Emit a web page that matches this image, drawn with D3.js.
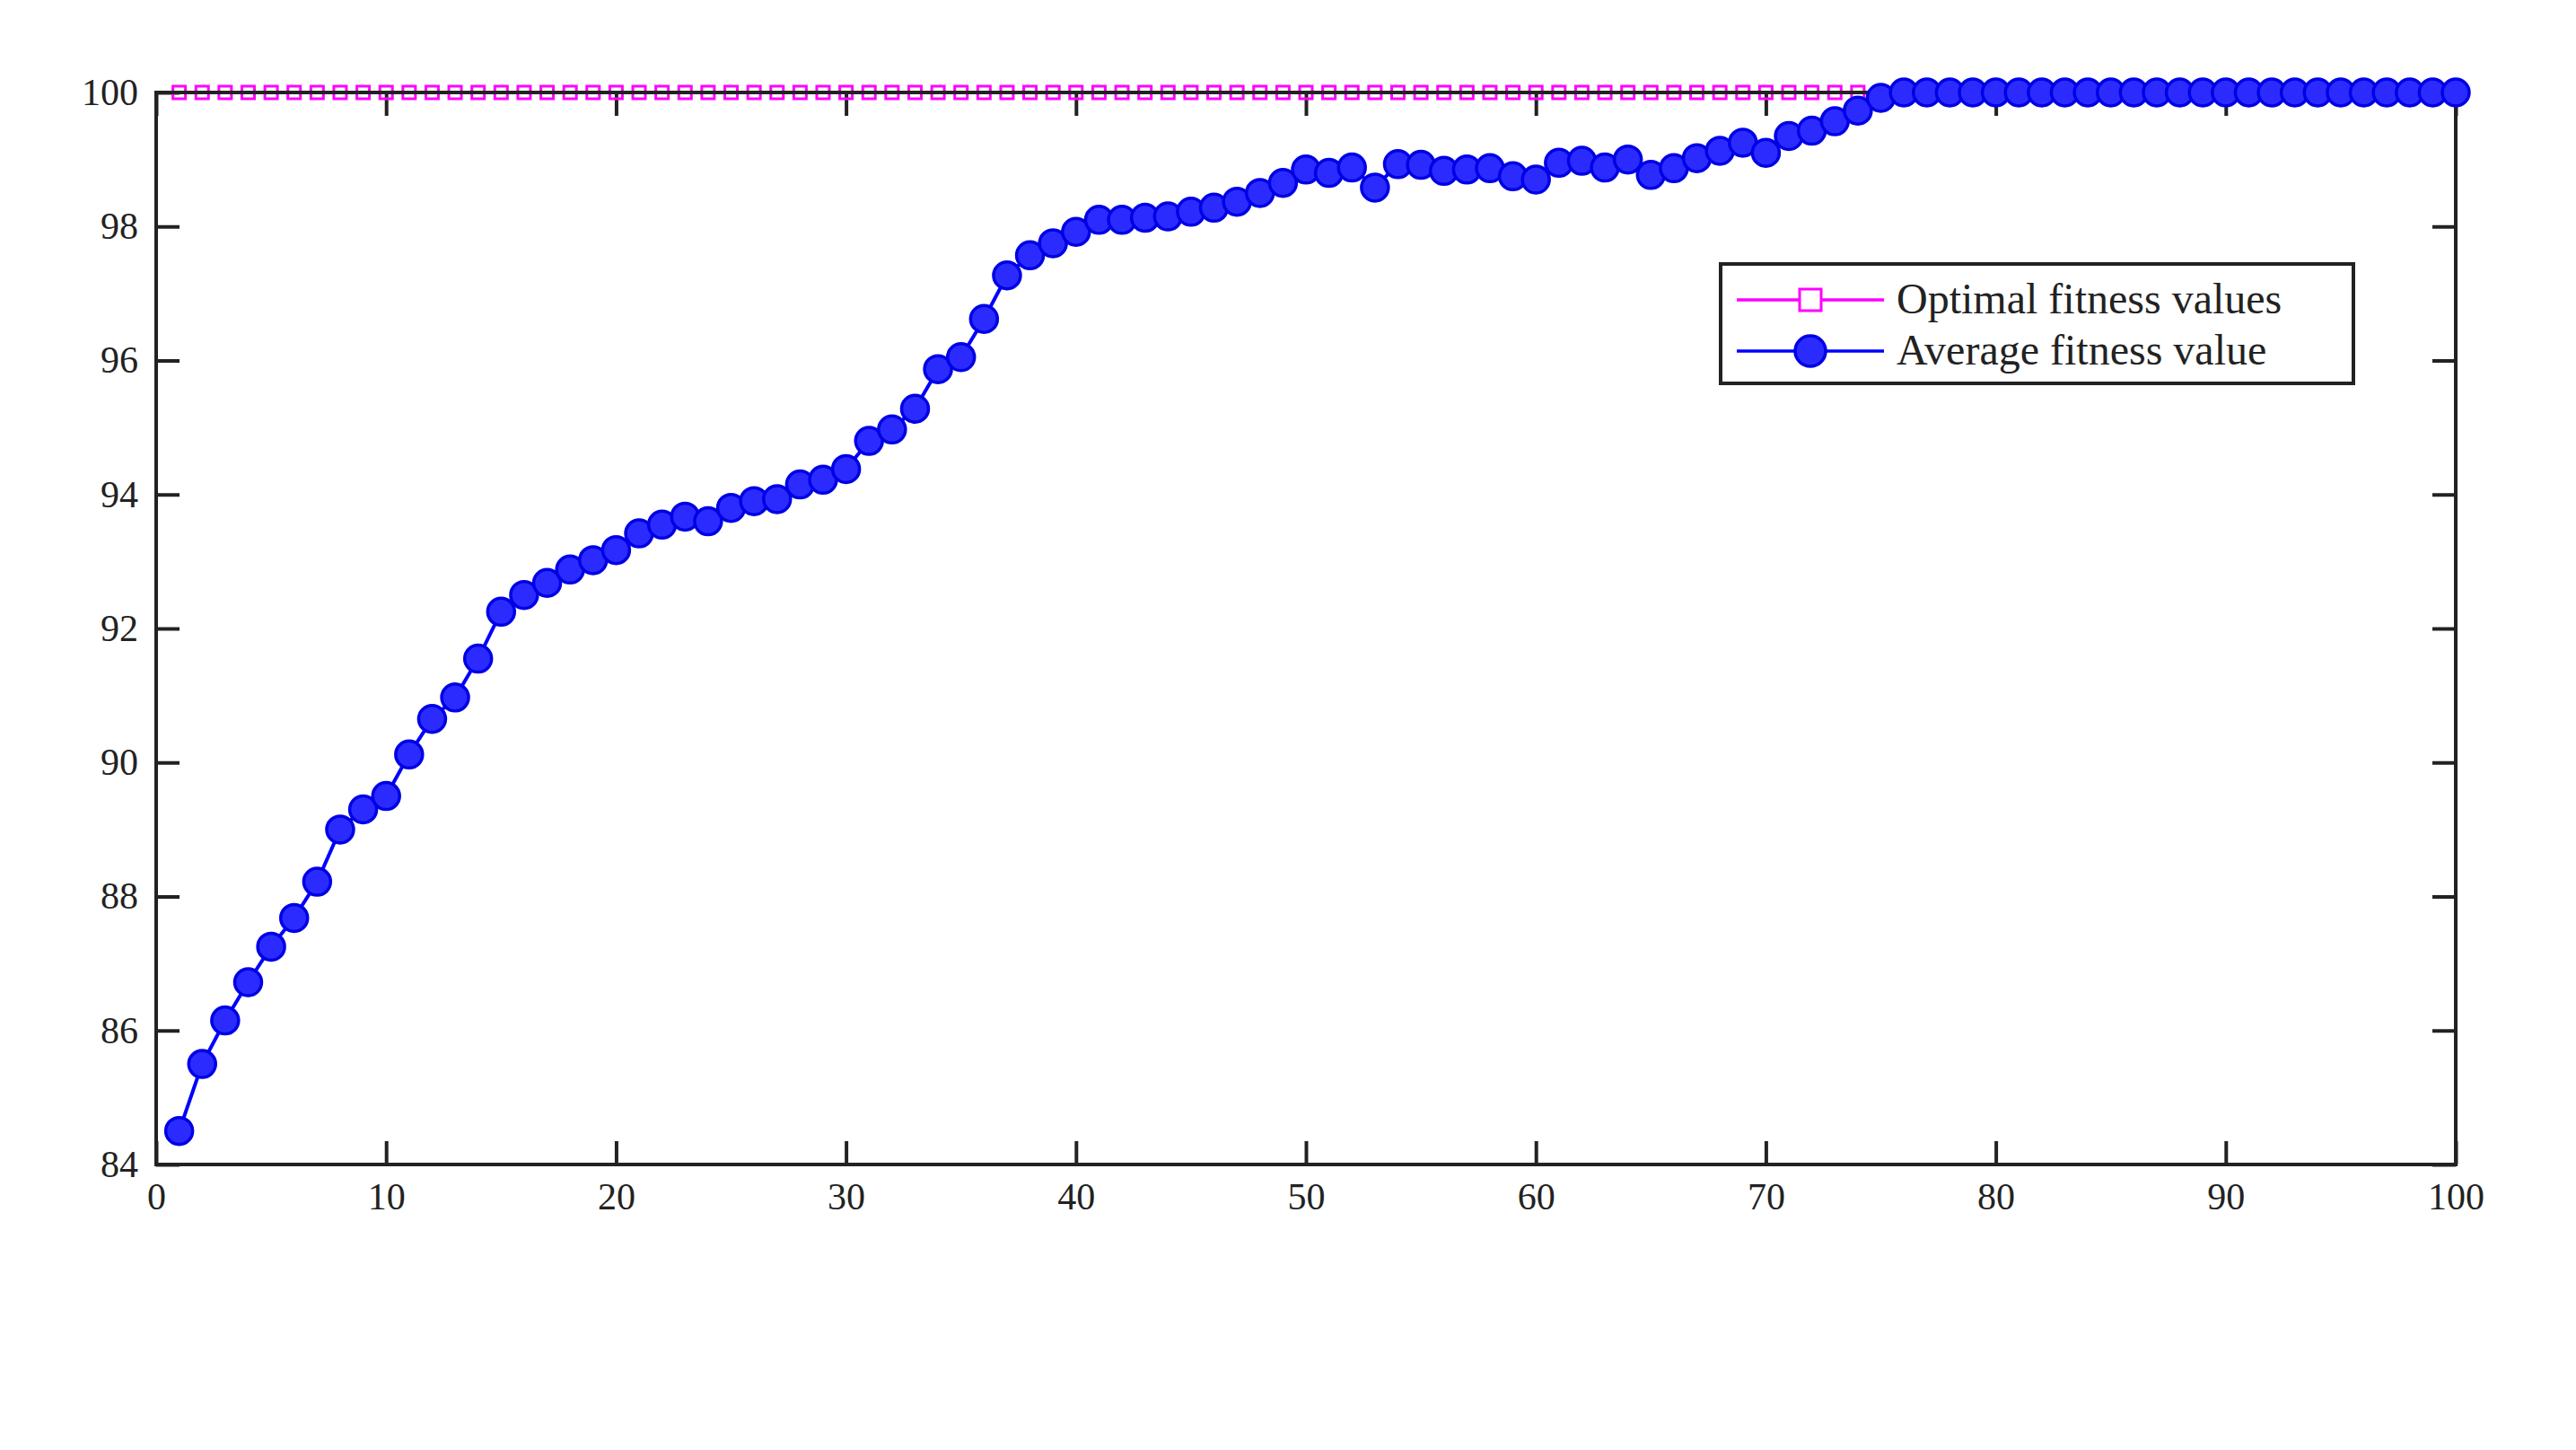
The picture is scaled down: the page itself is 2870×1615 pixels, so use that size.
<!DOCTYPE html>
<html>
<head>
<meta charset="utf-8">
<script src="https://cdn.jsdelivr.net/npm/d3@7"></script>
<style>
  body { margin: 0; background: #fff; }
  text { font-family: "Liberation Serif", "DejaVu Serif", serif; fill: #222; }
</style>
</head>
<body>
<svg id="chart" width="2870" height="1615"></svg>
<script>
const generations = d3.range(1, 101);
const avgHead = [
  84.5, 85.5, 86.15, 86.72, 87.25, 87.68, 88.22, 89.0, 89.3, 89.5,
  90.12, 90.65, 90.97, 91.55, 92.25, 92.5, 92.68, 92.88, 93.02, 93.17,
  93.42, 93.55, 93.67, 93.6, 93.8, 93.9, 93.93, 94.15, 94.22, 94.38,
  94.8, 94.97, 95.28, 95.87, 96.05, 96.62, 97.27, 97.57, 97.75, 97.92,
  98.1, 98.1, 98.13, 98.15, 98.22, 98.28, 98.37, 98.5, 98.65, 98.85,
  98.8, 98.88, 98.58, 98.93, 98.92, 98.83, 98.85, 98.87, 98.75, 98.7,
  98.95, 98.98, 98.88, 99.0, 98.77, 98.87, 99.02, 99.13, 99.25, 99.1,
  99.35, 99.43, 99.57, 99.73, 99.92
];
// generations 76-100 reached the optimum
const avgTail = new Array(25).fill(100);
const averageFitness = avgHead.concat(avgTail);
const optimalFitness = new Array(100).fill(100);
const xTicks = [0, 10, 20, 30, 40, 50, 60, 70, 80, 90, 100];
const yTicks = [84, 86, 88, 90, 92, 94, 96, 98, 100];

const mLeft = 174, mRight = 2736, mTop = 103, mBottom = 1297;
const svg = d3.select("#chart");
const x = d3.scaleLinear().domain([0, 100]).range([mLeft, mRight]);
const y = d3.scaleLinear().domain([84, 100]).range([mBottom, mTop]);

const tickLen = 26;
const axisStyle = g => {
  g.select(".domain").remove();
  g.selectAll(".tick line").attr("stroke", "#222").attr("stroke-width", 4);
  g.selectAll(".tick text").style("font-size", "42px").attr("fill", "#222");
};
svg.append("g").attr("transform", `translate(0,${mBottom})`)
  .call(d3.axisBottom(x).tickValues(xTicks).tickSizeInner(-tickLen).tickPadding(20))
  .call(axisStyle);
svg.append("g").attr("transform", `translate(0,${mTop})`)
  .call(d3.axisTop(x).tickValues(xTicks).tickSizeInner(-tickLen).tickFormat(""))
  .call(axisStyle);
svg.append("g").attr("transform", `translate(${mLeft},0)`)
  .call(d3.axisLeft(y).tickValues(yTicks).tickSizeInner(-tickLen).tickPadding(20))
  .call(axisStyle);
svg.append("g").attr("transform", `translate(${mRight},0)`)
  .call(d3.axisRight(y).tickValues(yTicks).tickSizeInner(-tickLen).tickFormat(""))
  .call(axisStyle);

const line = d3.line().x((d, i) => x(generations[i])).y(d => y(d));

// optimal series
svg.append("path").datum(optimalFitness).attr("d", line)
  .attr("fill", "none").attr("stroke", "#ff00ff").attr("stroke-width", 3.5);
const sq = 14;
svg.append("g").selectAll("rect").data(optimalFitness).join("rect")
  .attr("x", (d, i) => x(generations[i]) - sq / 2)
  .attr("y", d => y(d) - sq / 2)
  .attr("width", sq).attr("height", sq)
  .attr("fill", "none").attr("stroke", "#ff00ff").attr("stroke-width", 3);

// frame
svg.append("rect").attr("x", mLeft).attr("y", mTop)
  .attr("width", mRight - mLeft).attr("height", mBottom - mTop)
  .attr("fill", "none").attr("stroke", "#222").attr("stroke-width", 4);

// average series
svg.append("path").datum(averageFitness).attr("d", line)
  .attr("fill", "none").attr("stroke", "#0000ff").attr("stroke-width", 4);
svg.append("g").selectAll("circle").data(averageFitness).join("circle")
  .attr("cx", (d, i) => x(generations[i]))
  .attr("cy", d => y(d))
  .attr("r", 15)
  .attr("fill", "#2b2bff").attr("stroke", "#0000e6").attr("stroke-width", 3.5);

// legend
const lg = svg.append("g").attr("transform", "translate(1917,294)");
lg.append("rect").attr("width", 705).attr("height", 133)
  .attr("fill", "#fff").attr("stroke", "#222").attr("stroke-width", 4);
const entries = [
  { label: "Optimal fitness values", color: "#ff00ff", type: "square", yy: 40 },
  { label: "Average fitness value", color: "#0000ff", type: "circle", yy: 97 }
];
entries.forEach(e => {
  lg.append("line").attr("x1", 18).attr("x2", 182).attr("y1", e.yy).attr("y2", e.yy)
    .attr("stroke", e.color).attr("stroke-width", 3.5);
  if (e.type === "square") {
    lg.append("rect").attr("x", 100 - 12).attr("y", e.yy - 12).attr("width", 24).attr("height", 24)
      .attr("fill", "#fff").attr("stroke", e.color).attr("stroke-width", 3);
  } else {
    lg.append("circle").attr("cx", 100).attr("cy", e.yy).attr("r", 17)
      .attr("fill", "#2b2bff").attr("stroke", "#0000e6").attr("stroke-width", 3.5);
  }
  lg.append("text").attr("x", 196).attr("y", e.yy + 15)
    .style("font-size", "48px").text(e.label);
});
</script>
</body>
</html>
